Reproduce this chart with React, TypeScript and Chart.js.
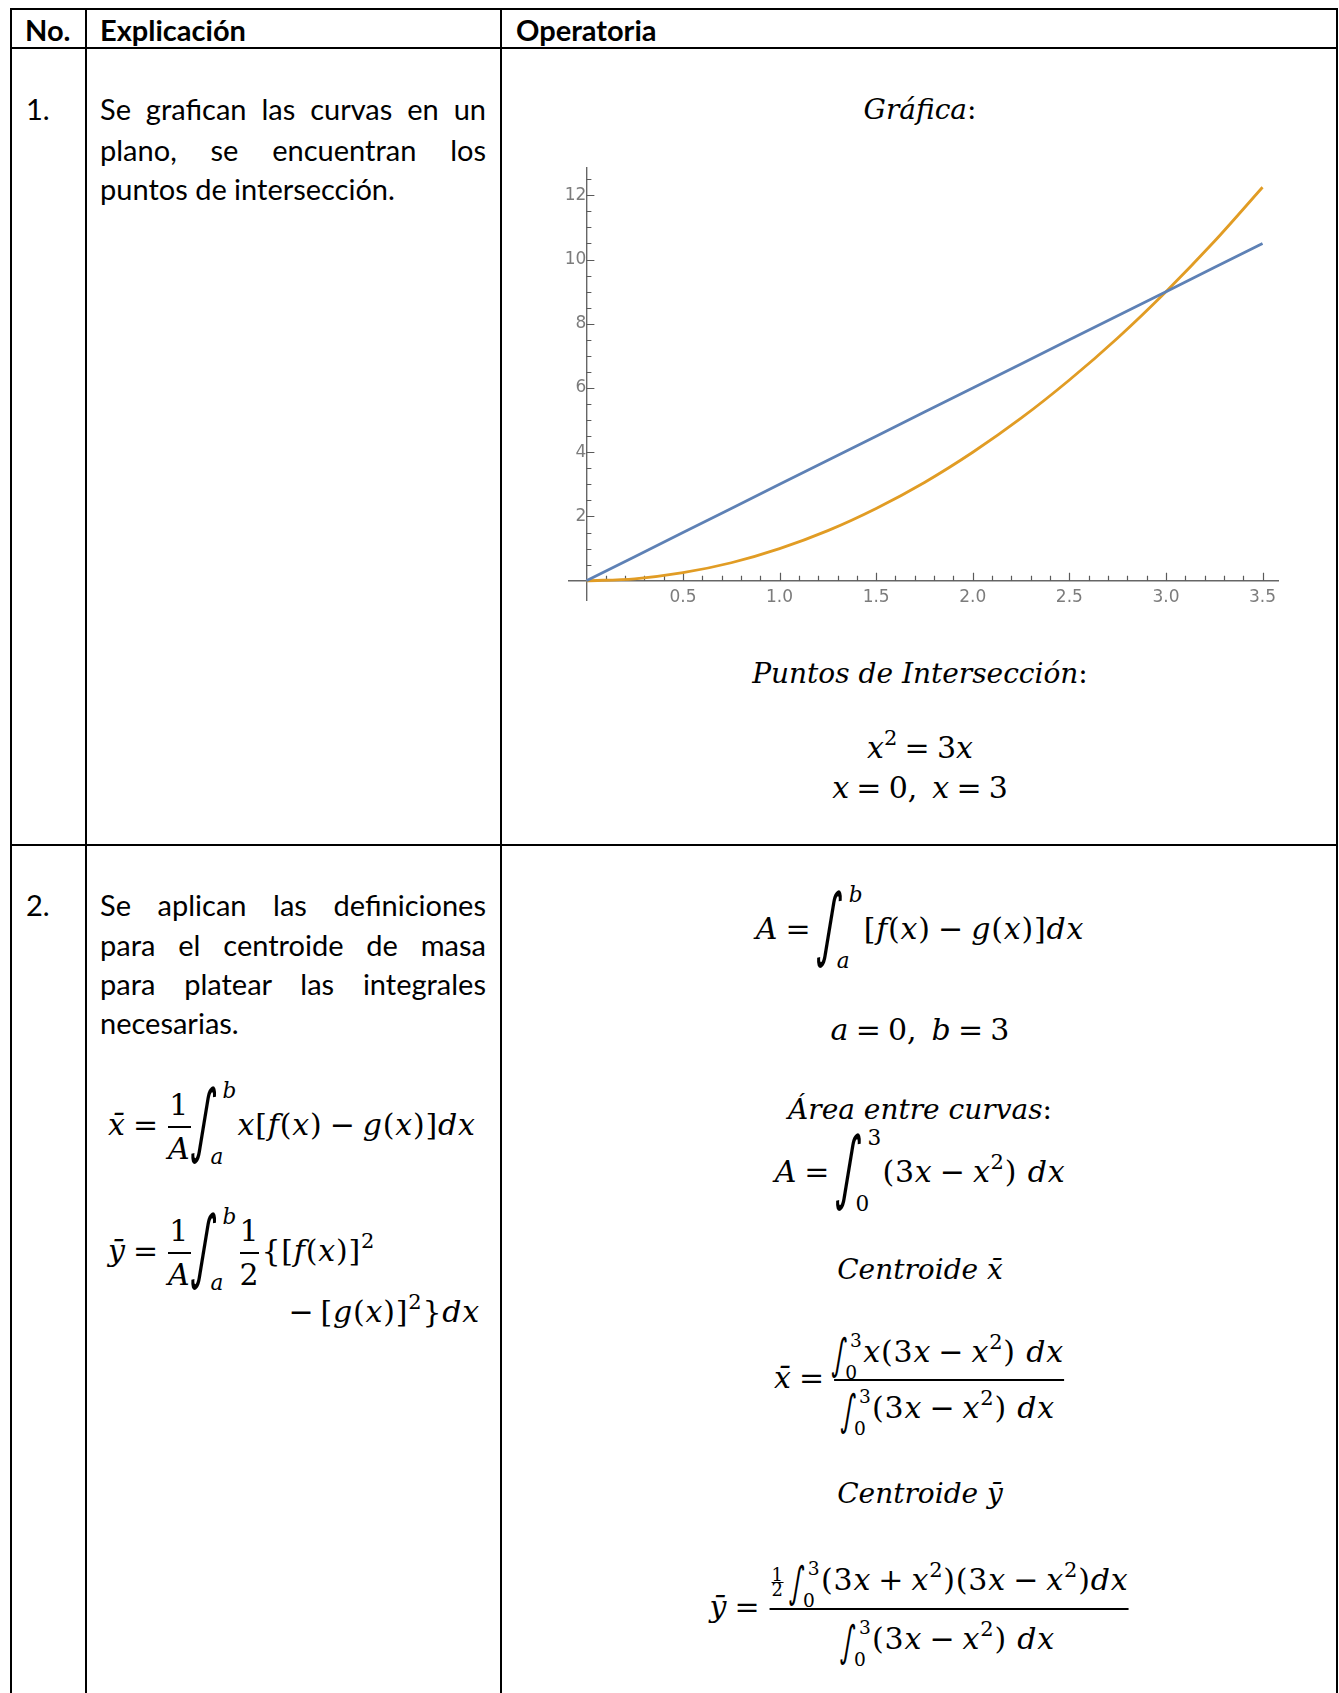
import React, { useEffect, useRef } from 'react';
import { Chart, registerables } from 'chart.js';

Chart.register(...registerables);

// ---------- chart data ----------
const xValues = [0, 0.25, 0.5, 0.75, 1, 1.25, 1.5, 1.75, 2, 2.25, 2.5, 2.75, 3, 3.25, 3.5];
const lineValues = [0, 0.75, 1.5, 2.25, 3, 3.75, 4.5, 5.25, 6, 6.75, 7.5, 8.25, 9, 9.75, 10.5];
const curveValues = [0, 0.06, 0.25, 0.56, 1, 1.56, 2.25, 3.06, 4, 5.06, 6.25, 7.56, 9, 10.56, 12.25];
const xTickLabels = [0.5, 1, 1.5, 2, 2.5, 3, 3.5];
const yTickLabels = [2, 4, 6, 8, 10, 12];
const xRange = [-0.09, 3.58];
const yRange = [-0.6, 12.85];

const BLUE = '#5E81B5';
const ORANGE = '#E19C24';

const TEXT = 'Lato, "Open Sans", sans-serif';
const MATH = '"DejaVu Serif", serif';
const FS = 30; // formulas
const FT = 28; // math-italic text labels

const mathTicks = {
  id: 'mathTicks',
  beforeDatasetsDraw(chart: any) {
    const { ctx, scales } = chart;
    const xs = scales.x;
    const ys = scales.y;
    const x0 = xs.getPixelForValue(0);
    const y0 = ys.getPixelForValue(0);
    ctx.save();
    ctx.strokeStyle = '#5a5a5a';
    ctx.lineWidth = 1.2;
    ctx.beginPath();
    for (let i = 1; i <= 35; i++) {
      const px = Math.round(xs.getPixelForValue(i / 10)) + 0.5;
      const len = i % 5 === 0 ? 8 : 5;
      ctx.moveTo(px, y0);
      ctx.lineTo(px, y0 - len);
    }
    for (let j = 1; j <= 25; j++) {
      const py = Math.round(ys.getPixelForValue(j / 2)) + 0.5;
      const len = j % 4 === 0 ? 8 : 5;
      ctx.moveTo(x0, py);
      ctx.lineTo(x0 + len, py);
    }
    ctx.stroke();
    ctx.restore();
  },
};

function Plot() {
  const ref = useRef<HTMLCanvasElement>(null);
  useEffect(() => {
    const tickFont = { family: '"DejaVu Sans", sans-serif', size: 17 };
    const chart = new Chart(ref.current as HTMLCanvasElement, {
      type: 'line',
      data: {
        datasets: [
          {
            data: xValues.map((x, i) => ({ x, y: lineValues[i] })),
            borderColor: BLUE,
            borderWidth: 2.8,
            pointRadius: 0,
            tension: 0,
          },
          {
            data: xValues.map((x, i) => ({ x, y: curveValues[i] })),
            borderColor: ORANGE,
            borderWidth: 2.8,
            pointRadius: 0,
            cubicInterpolationMode: 'monotone',
          },
        ],
      },
      options: {
        responsive: false,
        animation: false,
        layout: { padding: { left: 40, right: 22, top: 20, bottom: 30 } },
        plugins: { legend: { display: false }, tooltip: { enabled: false } },
        scales: {
          x: {
            type: 'linear',
            min: xRange[0],
            max: xRange[1],
            position: { y: 0 } as any,
            grid: { display: false, drawTicks: false },
            border: { display: true, color: '#666', width: 1.4 },
            ticks: {
              stepSize: 0.5,
              includeBounds: false,
              padding: 7,
              color: '#7c7c7c',
              font: tickFont,
              maxRotation: 0,
              autoSkip: false,
              callback: (v: any) => (xTickLabels.includes(Number(v)) ? Number(v).toFixed(1) : ''),
            },
          },
          y: {
            type: 'linear',
            min: yRange[0],
            max: yRange[1],
            position: { x: 0 } as any,
            grid: { display: false, drawTicks: false },
            border: { display: true, color: '#666', width: 1.4 },
            ticks: {
              stepSize: 2,
              includeBounds: false,
              padding: 9,
              color: '#7c7c7c',
              font: tickFont,
              autoSkip: false,
              callback: (v: any) => (yTickLabels.includes(Number(v)) ? String(v) : ''),
            },
          },
        },
      },
      plugins: [mathTicks],
    } as any);
    return () => chart.destroy();
  }, []);
  return (
    <canvas
      ref={ref}
      width={771}
      height={482}
      style={{ position: 'absolute', left: 529, top: 148, width: 771, height: 482 }}
    />
  );
}

// ---------- layout helpers ----------
function HLine({ y, x1, x2 }: any) {
  return <div style={{ position: 'absolute', left: x1, top: y - 1, width: x2 - x1, height: 2, background: '#000' }} />;
}
function VLine({ x, y1, y2 }: any) {
  return <div style={{ position: 'absolute', left: x - 1, top: y1, width: 2, height: y2 - y1, background: '#000' }} />;
}

function Pos({ x, y, align = 'center', children, fs = FS, ls = 0 }: any) {
  const tx = align === 'center' ? '-50%' : align === 'right' ? '-100%' : '0';
  return (
    <div
      style={{
        position: 'absolute',
        left: x,
        top: y,
        transform: `translate(${tx}, -50%)`,
        whiteSpace: 'nowrap',
        fontFamily: MATH,
        fontSize: fs,
        letterSpacing: ls,
        lineHeight: `${Math.round(fs * 1.25)}px`,
      }}
    >
      {children}
    </div>
  );
}

function Op({ c }: any) {
  return <span style={{ margin: '0 0.24em' }}>{c}</span>;
}

function Sup({ children, fs = FS }: any) {
  return <span style={{ fontSize: fs * 0.7, verticalAlign: fs * 0.42, lineHeight: 0 }}>{children}</span>;
}

function Int({ lo, hi, fs = FS, big }: any) {
  const P = big
    ? { w: 1.5, gF: 1.6, sx: 0.85, sy: 1.67, sk: 8, gx: 1, gdy: -0.12, hiX: 1.0, hiY: -1.2, loX: 0.6, loY: 1.0, ls: 0.72 }
    : { w: 0.97, gF: 1.0, sx: 0.85, sy: 1.42, sk: 8, gx: -1, gdy: 0.13, hiX: 0.53, hiY: -0.43, loX: 0.37, loY: 0.63, ls: 0.62 };
  const axis = 0.27 * fs;
  const G = P.gF * fs;
  const L = P.ls * fs;
  return (
    <span style={{ display: 'inline-block', position: 'relative', width: P.w * fs, height: 2 * axis, verticalAlign: 'baseline', letterSpacing: 0 }}>
      <span
        style={{
          position: 'absolute',
          left: P.gx,
          top: axis + P.gdy * fs - G / 2 - 0.056 * G * P.sy,
          height: G,
          lineHeight: `${G}px`,
          fontSize: G,
          fontFamily: '"DejaVu Sans", sans-serif',
          fontStyle: 'normal',
          transform: `skewX(-${P.sk}deg) scale(${P.sx},${P.sy})`,
          transformOrigin: 'left center',
        }}
      >
        ∫
      </span>
      <span style={{ position: 'absolute', left: P.hiX * fs, top: axis + P.hiY * fs - L / 2, fontSize: L, lineHeight: `${L}px` }}>{hi}</span>
      <span style={{ position: 'absolute', left: P.loX * fs, top: axis + P.loY * fs - L / 2, fontSize: L, lineHeight: `${L}px` }}>{lo}</span>
    </span>
  );
}

function Frac({ num, den, h, bar = 2, pad = 0, fs, mr = 2 }: any) {
  return (
    <span
      style={{
        display: 'inline-flex',
        flexDirection: 'column',
        alignItems: 'center',
        verticalAlign: 'middle',
        margin: `0 ${mr}px 0 2px`,
        fontSize: fs,
      }}
    >
      <span style={{ display: 'block', height: h, lineHeight: `${h}px`, whiteSpace: 'nowrap', padding: `0 ${pad}px` }}>{num}</span>
      <span style={{ display: 'block', alignSelf: 'stretch', height: 0, borderTop: `${bar}px solid #000`, marginTop: -bar / 2, marginBottom: -bar / 2 }} />
      <span style={{ display: 'block', height: h, lineHeight: `${h}px`, whiteSpace: 'nowrap', padding: `0 ${pad}px` }}>{den}</span>
    </span>
  );
}

function TextLine({ y, text, last }: any) {
  return (
    <div
      style={{
        position: 'absolute',
        left: 100,
        top: y - 20,
        width: 386,
        height: 40,
        lineHeight: '40px',
        fontFamily: TEXT,
        fontSize: 29,
        textAlign: last ? 'left' : 'justify',
        textAlignLast: last ? 'left' : 'justify',
      } as any}
    >
      {text}
    </div>
  );
}

function Label({ x, y, text, bold }: any) {
  return (
    <div
      style={{
        position: 'absolute',
        left: x,
        top: y - 20,
        height: 40,
        lineHeight: '40px',
        fontFamily: TEXT,
        fontSize: 29,
        fontWeight: bold ? 700 : 400,
        whiteSpace: 'nowrap',
      }}
    >
      {text}
    </div>
  );
}

const xbar = 'x\u0304';
const ybar = '\u0233';
const SP = '\u2002';

const fx = <><i>f</i>(<i>x</i>)</>;
const gx = <><i>g</i>(<i>x</i>)</>;
const x2 = <><i>x</i><Sup>2</Sup></>;
const body = <>(3<i>x</i><Op c="−" />{x2}) <i>dx</i></>;

export default function App() {
  return (
    <div style={{ position: 'absolute', left: 0, top: 0, width: 1339, height: 1693, overflow: 'hidden', background: '#fff', color: '#000' }}>
      {/* table rules */}
      <HLine y={9} x1={10} x2={1338} />
      <HLine y={48} x1={10} x2={1338} />
      <HLine y={845} x1={10} x2={1338} />
      <VLine x={11} y1={8} y2={1693} />
      <VLine x={86} y1={8} y2={1693} />
      <VLine x={501} y1={8} y2={1693} />
      <VLine x={1337} y1={8} y2={1693} />

      {/* header */}
      <Label x={25} y={30} text="No." bold />
      <Label x={100} y={30} text="Explicación" bold />
      <Label x={516} y={30} text="Operatoria" bold />

      {/* row 1 */}
      <Label x={26} y={109} text="1." />
      <TextLine y={109} text="Se grafican las curvas en un" />
      <TextLine y={150} text="plano, se encuentran los" />
      <TextLine y={189} text="puntos de intersección." last />

      <Pos x={920} y={109} fs={FT}><i>Gráfica</i>:</Pos>
      <Plot />
      <Pos x={920} y={673} fs={FT}><i>Puntos de Intersección</i>:</Pos>
      <Pos x={920} y={748}>{x2}<Op c="=" />3<i>x</i></Pos>
      <Pos x={920} y={788}><i>x</i><Op c="=" />0,{SP}<i>x</i><Op c="=" />3</Pos>

      {/* row 2 */}
      <Label x={26} y={905} text="2." />
      <TextLine y={905} text="Se aplican las definiciones" />
      <TextLine y={945} text="para el centroide de masa" />
      <TextLine y={984} text="para platear las integrales" />
      <TextLine y={1023} text="necesarias." last />

      <Pos x={108} y={1127} align="left" ls={0.8}>
        <i>{xbar}</i><Op c="=" /><Frac h={44} num="1" den={<i>A</i>} />
        <Int big lo={<i>a</i>} hi={<i>b</i>} />
        <i>x</i>[{fx}<Op c="−" />{gx}]<i>dx</i>
      </Pos>
      <Pos x={108} y={1253} align="left" ls={0.8}>
        <i>{ybar}</i><Op c="=" /><Frac h={44} num="1" den={<i>A</i>} />
        <Int big lo={<i>a</i>} hi={<i>b</i>} />
        <Frac h={44} num="1" den="2" />
        {'{'}[{fx}]<Sup>2</Sup>
      </Pos>
      <Pos x={480} y={1312} align="right" ls={0.8}>
        −<span style={{ marginLeft: '0.2em' }} />[{gx}]<Sup>2</Sup>{'}'}<i>dx</i>
      </Pos>

      <Pos x={920} y={929} ls={0.8}>
        <i>A</i><Op c="=" /><Int big lo={<i>a</i>} hi={<i>b</i>} />[{fx}<Op c="−" />{gx}]<i>dx</i>
      </Pos>
      <Pos x={920} y={1030}><i>a</i><Op c="=" />0,{SP}<i>b</i><Op c="=" />3</Pos>
      <Pos x={920} y={1109} fs={FT}><i>Área entre curvas</i>:</Pos>
      <Pos x={920} y={1172} ls={0.8}>
        <i>A</i><Op c="=" /><Int big lo="0" hi="3" />{body}
      </Pos>
      <Pos x={920} y={1269} fs={FT}><i>Centroide {xbar}</i></Pos>
      <Pos x={920} y={1380} ls={0.8}>
        <i>{xbar}</i><Op c="=" />
        <Frac
          h={56}
          num={<><Int lo="0" hi="3" /><i>x</i>{body}</>}
          den={<><Int lo="0" hi="3" />{body}</>}
        />
      </Pos>
      <Pos x={920} y={1493} fs={FT}><i>Centroide {ybar}</i></Pos>
      <Pos x={920} y={1609} ls={0.8}>
        <i>{ybar}</i><Op c="=" />
        <Frac
          h={59}
          num={<><Frac h={15} fs={18} bar={1.5} mr={8} num="1" den="2" /><Int lo="0" hi="3" />(3<i>x</i><Op c="+" />{x2})(3<i>x</i><Op c="−" />{x2})<i>dx</i></>}
          den={<><Int lo="0" hi="3" />{body}</>}
        />
      </Pos>
    </div>
  );
}
